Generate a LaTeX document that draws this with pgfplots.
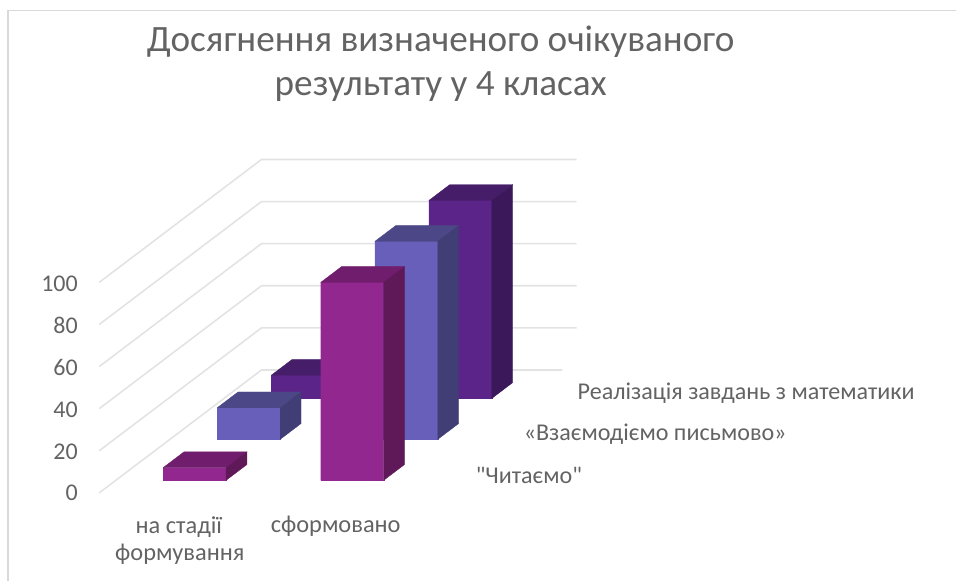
\documentclass[border=0pt]{standalone}
\usepackage{fontspec}
\setmainfont{Carlito}
\newfontfamily\plainf{Carlito}
\usepackage{pgfplots}
\pgfplotsset{compat=1.18}
\definecolor{gridc}{HTML}{E3E3E3}
\definecolor{framec}{HTML}{D9D9D9}
\definecolor{txt}{HTML}{636363}
\definecolor{af}{HTML}{92278F}\definecolor{at}{HTML}{6F1D6C}\definecolor{as}{HTML}{5F1959}
\definecolor{bf}{HTML}{675FB9}\definecolor{bt}{HTML}{4C4787}\definecolor{bs}{HTML}{413D75}
\definecolor{cf}{HTML}{5B2488}\definecolor{ct}{HTML}{451D68}\definecolor{cs}{HTML}{3B1859}
% #1 category, #2 series, #3 value, #4 front, #5 top, #6 side colours
\newcommand{\barbox}[6]{%
  \pgfmathsetmacro{\xa}{#1+0.30}\pgfmathsetmacro{\xb}{#1+0.70}%
  \pgfmathsetmacro{\ya}{#2+0.307}\pgfmathsetmacro{\yb}{#2+0.693}%
  \addplot3[fill=#4,draw=#4,line width=0.3pt,forget plot] coordinates {(\xa,\ya,0) (\xb,\ya,0) (\xb,\ya,#3) (\xa,\ya,#3) (\xa,\ya,0)};
  \addplot3[fill=#5,draw=#5,line width=0.3pt,forget plot] coordinates {(\xa,\ya,#3) (\xb,\ya,#3) (\xb,\yb,#3) (\xa,\yb,#3) (\xa,\ya,#3)};
  \addplot3[fill=#6,draw=#6,line width=0.3pt,forget plot] coordinates {(\xb,\ya,0) (\xb,\yb,0) (\xb,\yb,#3) (\xb,\ya,#3) (\xb,\ya,0)};
}
\newcommand{\gridl}[1]{\addplot3[gridc,line width=1.6pt,forget plot] coordinates {(0,0,#1) (0,3,#1) (2,3,#1)};}
\begin{document}
\begin{tikzpicture}[x=1pt,y=1pt]
\begin{axis}[
  anchor=origin, at={(99.3pt,87.7pt)},
  x={(157.7pt,0pt)}, y={(54.13pt,41pt)}, z={(0pt,2.107pt)},
  xmin=0,xmax=2,ymin=0,ymax=3,zmin=0,zmax=100,
  hide axis, clip=false]
\addplot3[gridc,line width=1.6pt,forget plot] coordinates {(0,0,0) (0,3,0) (1.91,3,0)};
\gridl{20}\gridl{40}\gridl{60}\gridl{80}\gridl{100}
% Реалізація завдань з математики
\barbox{0}{2}{11}{cf}{ct}{cs}
\barbox{1}{2}{94}{cf}{ct}{cs}
% Взаємодіємо письмово
\barbox{0}{1}{15}{bf}{bt}{bs}
\barbox{1}{1}{94}{bf}{bt}{bs}
% Читаємо
\barbox{0}{0}{6}{af}{at}{as}
\barbox{1}{0}{94}{af}{at}{as}
\end{axis}
\pgfresetboundingbox
\path (0,0) rectangle (957,581);
\draw[framec,line width=1.6pt] (8.3,0) -- (8.3,570.5) -- (957,570.5);
\begin{scope}[every node/.style={text=txt,inner sep=0pt}]
\node[font=\fontsize{37.2}{40}\selectfont] at (441,581-42) {Досягнення визначеного очікуваного};
\node[font=\fontsize{37.2}{40}\selectfont] at (441,581-87) {результату у 4 класах};
\foreach \v/\yy in {100/284,80/326,60/368,40/410,20/452,0/493}
  \node[anchor=east,font=\fontsize{24}{28}\selectfont] at (78,581-\yy) {\v};
\node[font=\fontsize{24.4}{28}\selectfont] at (179,581-528) {на стадії};
\node[font=\fontsize{24.4}{28}\selectfont] at (180,581-555) {формування};
\node[font=\fontsize{24.4}{28}\selectfont] at (336,581-527) {сформовано};
\node[anchor=west,font=\fontsize{24.1}{28}\selectfont] at (578,581-394) {Реалізація завдань з математики};
\node[anchor=west,font=\fontsize{24.1}{28}\selectfont] at (524,581-435) {«Взаємодіємо письмово»};
\node[anchor=west,font=\fontsize{24.1}{28}\selectfont] at (476,581-476) {\plainf "Читаємо"};
\end{scope}
\end{tikzpicture}
\end{document}
